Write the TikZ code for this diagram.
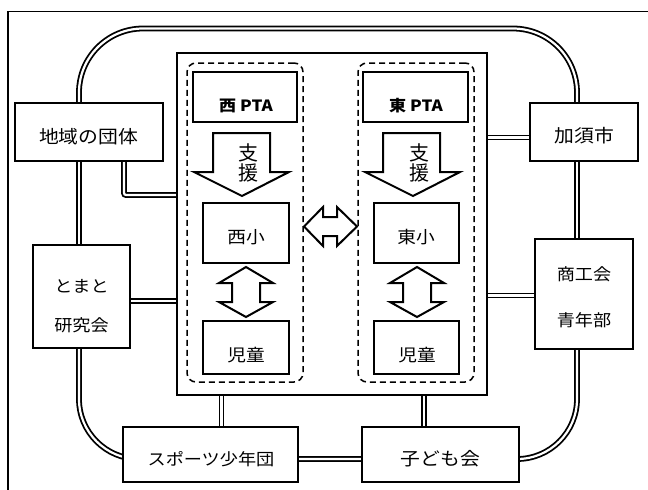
\documentclass[tikz,border=0pt]{standalone}
\usepackage{fontspec}
\newfontfamily\jpw[FakeStretch=1.1]{Noto Sans CJK JP}
\newfontfamily\jpn{Noto Sans CJK JP}
\usetikzlibrary{backgrounds}
\begin{document}
\begin{tikzpicture}[x=1pt,y=-1pt,
  box/.style={draw, line width=1.6pt, fill=white, inner sep=0pt},
  txt/.style={inner sep=0pt, anchor=center},
  tA/.style={txt, font=\jpw\fontsize{18pt}{18pt}\selectfont},
  tB/.style={txt, font=\jpw\fontsize{17pt}{17pt}\selectfont},
  tC/.style={txt, font=\jpw\fontsize{16.5pt}{16.5pt}\selectfont},
  tP/.style={txt, font=\jpw\bfseries\fontsize{15.5pt}{15.5pt}\selectfont},
  tS/.style={txt, font=\jpn\fontsize{20pt}{20pt}\selectfont},
  dbl/.style={draw, line width=1.8pt, double=white, double distance=2.2pt},
  bigarrow/.style={draw, line width=2pt, fill=white, line join=miter},
  dashbox/.style={draw, line width=1.5pt, dash pattern=on 6pt off 4pt, rounded corners=9pt, inner sep=0pt}]
\useasboundingbox (0,0) rectangle (648,490);

% outer boxes
\node[box, minimum width=148pt, minimum height=58pt] (chiiki) at (89,132) {};
\node[box, minimum width=97pt, minimum height=103pt] (tomato) at (81.5,296.5) {};
\node[box, minimum width=108pt, minimum height=58pt] (kazo) at (584,132) {};
\node[box, minimum width=98pt, minimum height=110pt] (shoko) at (584,294) {};
\node[box, minimum width=175pt, minimum height=55pt] (spo) at (210.5,454.5) {};
\node[box, minimum width=157pt, minimum height=55pt] (kodomo) at (440.5,454.5) {};

% central box and groups
\node[box, line width=2.4pt, minimum width=310pt, minimum height=342pt] (center) at (332,224) {};
\node[dashbox, minimum width=116pt, minimum height=319pt] (westgrp) at (245,222.5) {};
\node[dashbox, minimum width=116pt, minimum height=319pt] (eastgrp) at (416,222.5) {};

\node[box, minimum width=104pt, minimum height=50pt] (wpta) at (245,97) {};
\node[box, minimum width=105pt, minimum height=50pt] (epta) at (415.5,97) {};
\node[box, minimum width=86pt, minimum height=60pt] (wsho) at (246,233) {};
\node[box, minimum width=85pt, minimum height=60pt] (esho) at (416.5,233) {};
\node[box, minimum width=86pt, minimum height=53pt] (wjido) at (246,347.5) {};
\node[box, minimum width=85pt, minimum height=53pt] (ejido) at (416.5,347.5) {};

% big arrows
\draw[bigarrow] (213,133) -- (270,133) -- (270,172) -- (289,172) -- (242,196) -- (194,172) -- (213,172) -- cycle;
\draw[bigarrow] (383,133) -- (440,133) -- (440,172) -- (460,172) -- (413,196) -- (365,172) -- (383,172) -- cycle;
\draw[bigarrow] (246,267) -- (273,283) -- (260,283) -- (260,302) -- (273,302) -- (246,317) -- (219,302) -- (232,302) -- (232,283) -- (219,283) -- cycle;
\draw[bigarrow] (417,267) -- (444,283) -- (431,283) -- (431,302) -- (444,302) -- (417,317) -- (390,302) -- (403,302) -- (403,283) -- (390,283) -- cycle;
\draw[bigarrow] (304,226.5) -- (323,207) -- (323,217) -- (337,217) -- (337,207) -- (357,226.5) -- (337,246) -- (337,236) -- (323,236) -- (323,246) -- cycle;

% texts
\node[tA] (chiikiT) at (88.5,137) {地域の団体};
\node[tA] (kazoT) at (584.5,135.5) {加須市};
\node[tC] (tomatoT1) at (81.5,286) {とまと};
\node[tC] (tomatoT2) at (81.5,325) {研究会};
\node[tC] (shokoT1) at (584,274.5) {商工会};
\node[tC] (shokoT2) at (584,320.5) {青年部};
\node[tC] (spoT) at (211,459.5) {スポーツ少年団};
\node[tA] (kodomoT) at (440.5,459) {子ども会};
\node[tB] (wshoT) at (246,237.5) {西小};
\node[tB] (eshoT) at (416,237.5) {東小};
\node[tB] (wjidoT) at (246,355) {児童};
\node[tB] (ejidoT) at (417,355) {児童};
\node[tP] (wptaT) at (246,105.5) {西 PTA};
\node[tP] (eptaT) at (416,105.5) {東 PTA};
\node[tS] (ws1) at (248.5,152.5) {支};
\node[tS] (ws2) at (248.5,173) {援};
\node[tS] (es1) at (419,152.5) {支};
\node[tS] (es2) at (419,173) {援};

% connectors
\coordinate (ringL) at (79,0);
\coordinate (ringR) at (577,0);
\coordinate (ringT) at (0,28.5);
\coordinate (ringB) at (0,459);
\coordinate (e1) at (124,195);
\coordinate (yT) at (0,301);
\coordinate (yK) at (0,137.5);
\coordinate (yS) at (0,295.5);
\coordinate (xS) at (221.5,0);
\coordinate (xK) at (424,0);
\begin{pgfonlayer}{background}
\fill[white] (0,0) rectangle (648,490);
\draw[line width=1.4pt] (8,500) -- (8,11.5) -- (655,11.5);
\draw[dbl, rounded corners=64pt] (chiiki.center -| ringL) |- (ringT -| ringR) -- (kazo.center -| ringR);
\draw[dbl, rounded corners=60pt] (tomato.center -| ringL) |- (ringB -| ringR) -- (shoko.center -| ringR);
\draw[dbl] (chiiki.center -| ringL) -- (tomato.center -| ringL);
\draw[dbl] (kazo.center -| ringR) -- (shoko.center -| ringR);
\draw[dbl, rounded corners=2pt] (chiiki.south -| e1) |- (center.west |- e1);
\draw[dbl] (tomato.east |- yT) -- (center.west |- yT);
\draw[dbl] (center.east |- yK) -- (kazo.west |- yK);
\draw[dbl] (center.east |- yS) -- (shoko.west |- yS);
\draw[dbl] (center.south -| xS) -- (spo.north -| xS);
\draw[dbl] (center.south -| xK) -- (kodomo.north -| xK);
\end{pgfonlayer}
\end{tikzpicture}
\end{document}
